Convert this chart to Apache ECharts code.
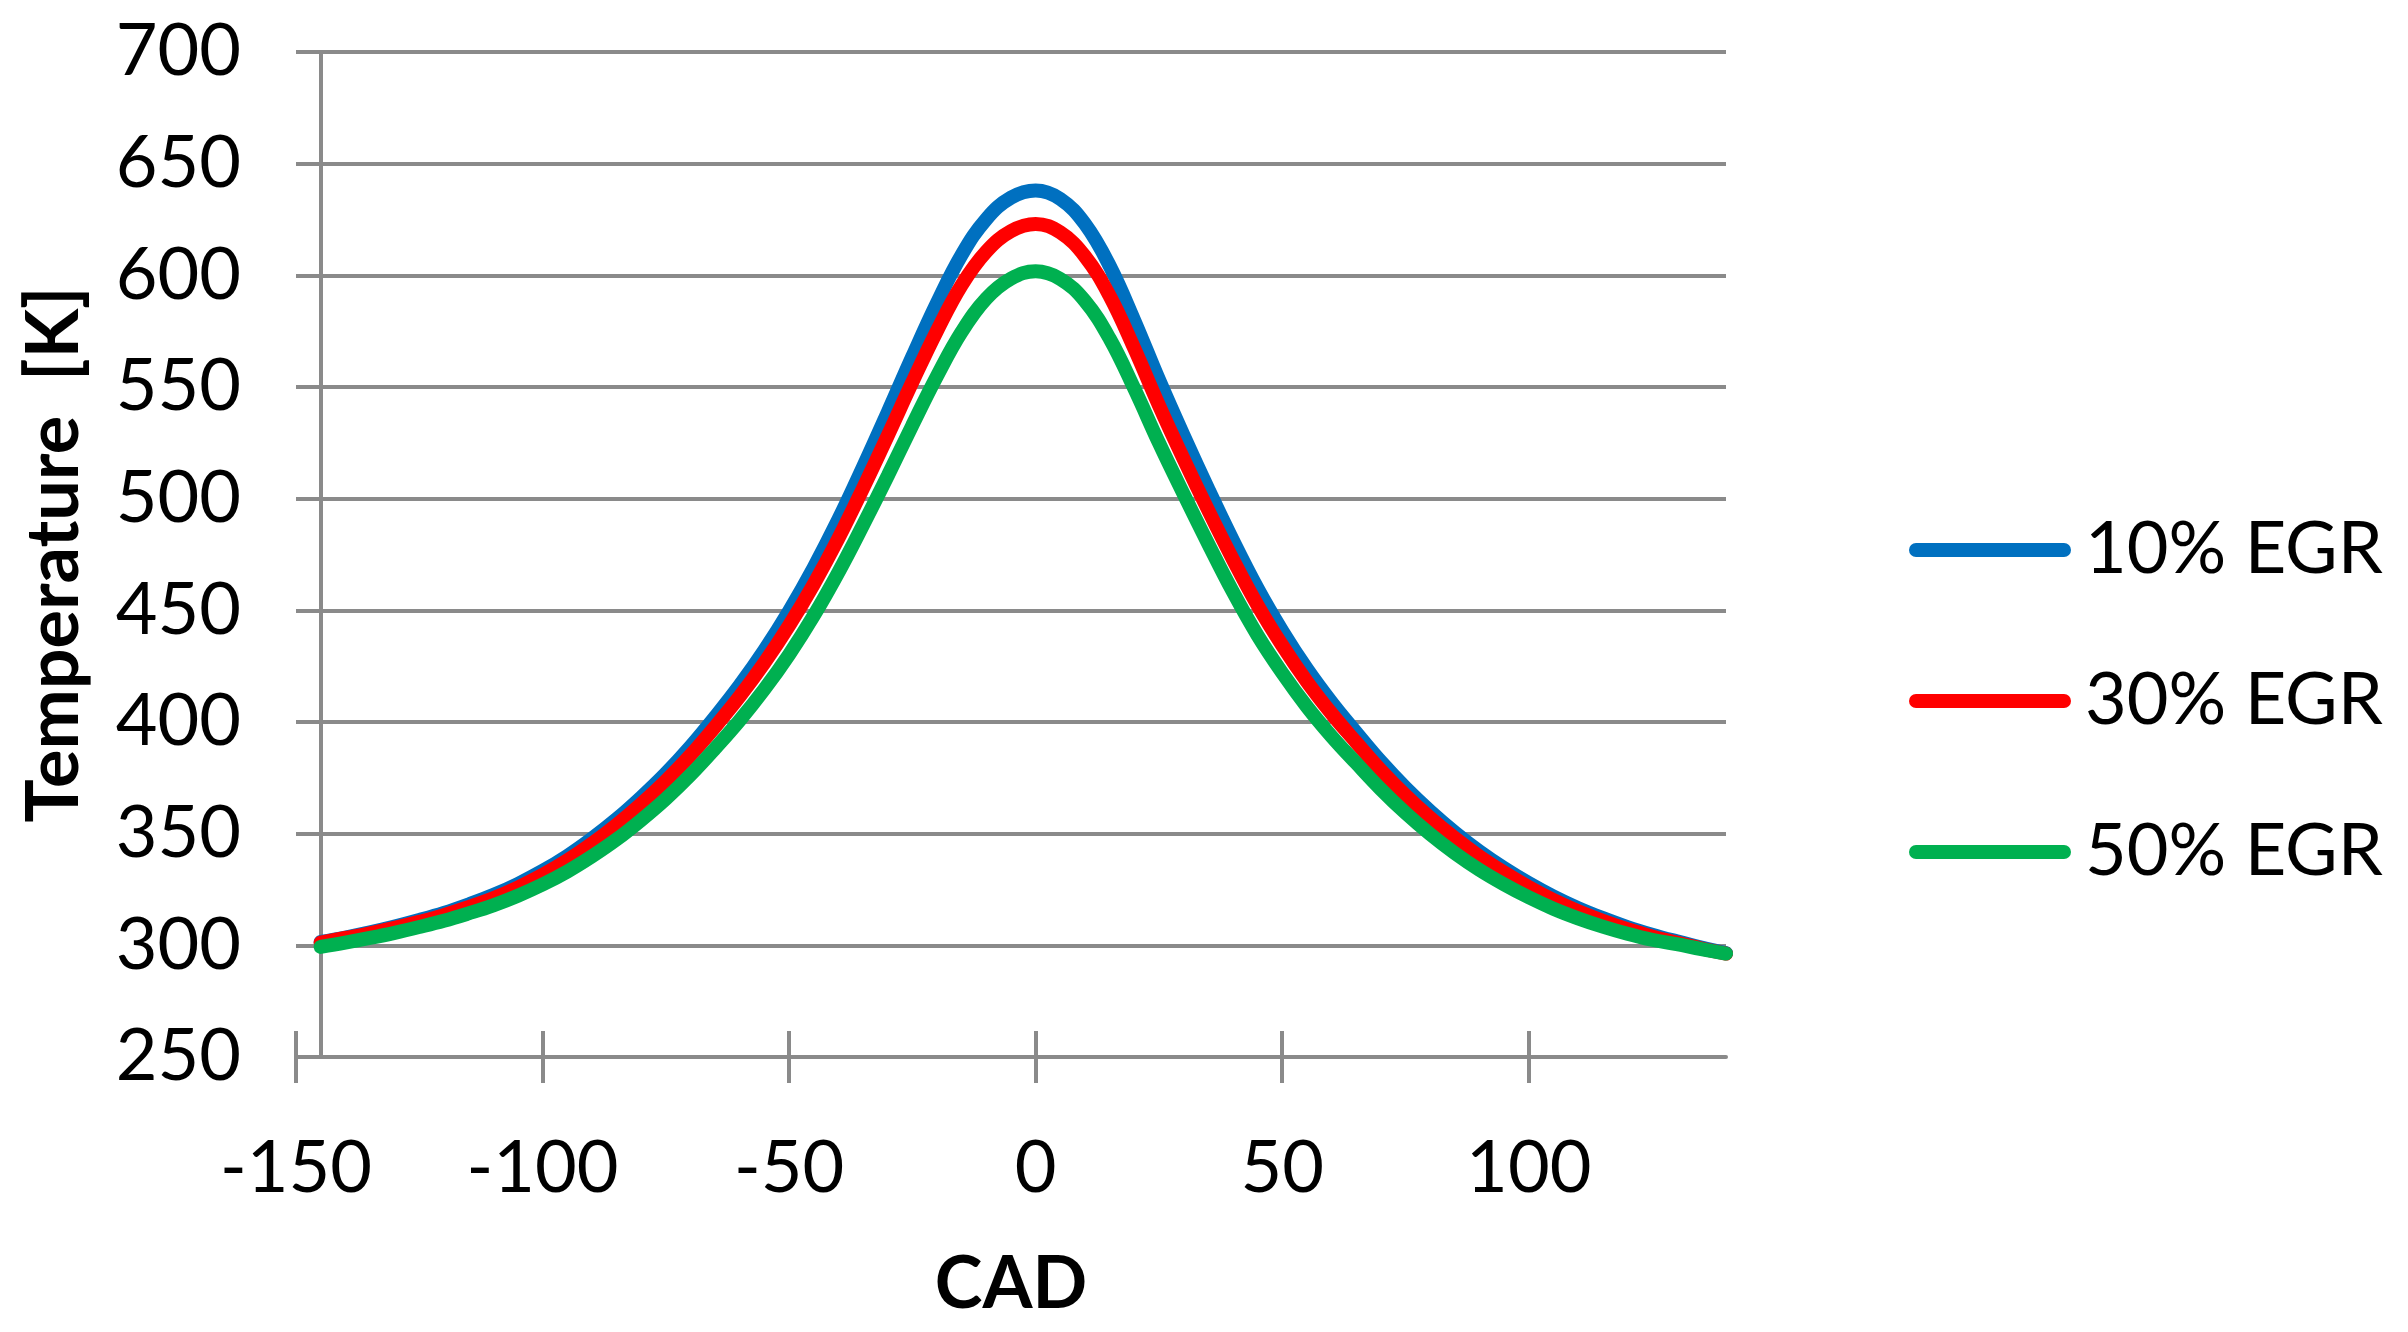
<!DOCTYPE html>
<html>
<head>
<meta charset="utf-8">
<script src="https://cdn.jsdelivr.net/npm/echarts@6/dist/echarts.min.js"></script>
<style>
  html, body { margin: 0; padding: 0; background: #fff; }
  #chart { width: 2408px; height: 1332px; }
</style>
</head>
<body>
<div id="chart"></div>
<script>
// crank angle (deg) and in-cylinder temperature (K) for each EGR rate
const cad = [-145, -140, -135, -130, -125, -120, -115, -110, -105, -100, -95, -90, -85, -80, -75, -70, -65, -60, -55, -50,
  -45, -40, -35, -30, -25, -20, -15, -10, -5, 0, 5, 10, 15, 20, 25, 30, 35, 40, 45, 50,
  55, 60, 65, 70, 75, 80, 85, 90, 95, 100, 105, 110, 115, 120, 125, 130, 135, 140];
const egr10 = [301.5, 303.5, 305.8, 308.4, 311.3, 314.5, 318.3, 322.5, 327.5, 333.3, 340, 347.8, 356.5, 366.3, 377, 389, 402.3, 416.5, 432.2, 449.7,
  469.2, 490.7, 514.2, 538.7, 563.7, 587.7, 609.2, 625.2, 634.8, 638, 634.2, 623, 604.3, 579.8, 553.3, 528.3, 504.3, 481.3, 459.8, 440.8,
  423.8, 408.8, 395.3, 382.3, 370.6, 360.1, 350.6, 342.1, 334.6, 327.9, 321.9, 316.7, 312.2, 308.2, 304.8, 301.8, 299, 296.5];
const egr30 = [301.2, 303.3, 305.4, 307.8, 310.5, 313.5, 317.1, 321.1, 325.9, 331.5, 338, 345.5, 353.9, 363.3, 373.6, 385.1, 397.9, 411.5, 426.5, 443.2,
  461.7, 482.2, 504.7, 528.2, 552.2, 575.2, 595.7, 610.7, 619.8, 623, 619.2, 608.5, 590.8, 567.3, 541.8, 517.8, 494.8, 472.8, 452.3, 434.3,
  418.1, 403.8, 390.9, 378.4, 367.2, 357.1, 348, 339.8, 332.6, 326.1, 320.3, 315.3, 311, 307.2, 304, 301.2, 298.6, 296.3];
const egr50 = [299.3, 301.2, 303.3, 305.6, 308.2, 311, 314.3, 317.9, 322.2, 327.2, 333, 339.8, 347.4, 356.1, 365.6, 376.3, 388.2, 400.8, 414.7, 430.2,
  447.6, 467, 488.2, 510.2, 532.9, 554.9, 574.7, 589.6, 598.5, 601.8, 598.4, 588.5, 571.7, 549.3, 525, 502.1, 479.8, 458.3, 438.8, 422,
  406.9, 393.6, 381.6, 369.9, 359.3, 349.8, 341.3, 333.8, 327.3, 321.5, 316.4, 312.1, 308.4, 305.2, 302.5, 300.5, 298.3, 296.3];

const seriesNames = ["10% EGR", "30% EGR", "50% EGR"];
const seriesColors = ["#0070C0", "#FF0000", "#00B050"];
const xTicks = [-150, -100, -50, 0, 50, 100];
const yAxisCross = -145;

const GRID = "#8a8a8a";
const FONT = "Lato";

const toPairs = (ys) => cad.map((x, i) => [x, ys[i]]);

const chart = echarts.init(document.getElementById("chart"));

// two overlaid x axes give the ticks that cross the axis line
const tickAxis = (inside) => ({
  type: "value",
  min: -150,
  max: 140,
  position: "bottom",
  axisLine: { show: !inside, onZero: false, lineStyle: { color: GRID, width: 4 } },
  axisTick: {
    show: true,
    inside: inside,
    length: 26,
    customValues: xTicks,
    lineStyle: { color: GRID, width: 4 },
  },
  axisLabel: {
    show: !inside,
    customValues: xTicks,
    fontFamily: FONT,
    fontSize: 72,
    color: "#000",
    margin: 76,
  },
  splitLine: { show: false },
});

const xMain = tickAxis(false);
xMain.name = "CAD";
xMain.nameLocation = "middle";
xMain.nameGap = 192;
xMain.nameTextStyle = { fontFamily: FONT, fontSize: 72, fontWeight: "bold", color: "#000" };

const option = {
  animation: false,
  backgroundColor: "#fff",
  textStyle: { fontFamily: FONT },
  grid: { left: 296, right: 682, top: 52, bottom: 275 },
  legend: {
    orient: "vertical",
    left: 1909,
    top: 510,
    padding: 0,
    itemWidth: 162,
    itemHeight: 14,
    itemGap: 71,
    icon: "path://M7,0 L155,0 A7,7 0 0 1 155,14 L7,14 A7,7 0 0 1 7,0 Z",
    textStyle: { fontFamily: FONT, fontSize: 72, color: "#000", lineHeight: 80, padding: [0, 0, 0, 9] },
    data: seriesNames,
  },
  xAxis: [xMain, tickAxis(true)],
  yAxis: {
    type: "value",
    min: 250,
    max: 700,
    interval: 50,
    name: "Temperature  [K]",
    nameLocation: "middle",
    nameGap: 205,
    nameTextStyle: { fontFamily: FONT, fontSize: 72, fontWeight: "bold", color: "#000" },
    axisLine: { show: false },
    axisTick: { show: false },
    axisLabel: { fontFamily: FONT, fontSize: 72, color: "#000", margin: 55 },
    splitLine: { show: true, lineStyle: { color: GRID, width: 4 } },
  },
  series: [egr10, egr30, egr50].map((ys, i) => ({
    name: seriesNames[i],
    type: "line",
    data: toPairs(ys),
    smooth: 0.4,
    showSymbol: false,
    color: seriesColors[i],
    lineStyle: { color: seriesColors[i], width: 14, cap: "round" },
    z: 3 + i,
    markLine: i === 0 ? {
      silent: true,
      symbol: ["none", "none"],
      label: { show: false },
      lineStyle: { color: GRID, width: 4, type: "solid" },
      emphasis: { disabled: true },
      z: 1,
      data: [{ xAxis: yAxisCross }],
    } : undefined,
  })),
};

chart.setOption(option);
</script>
</body>
</html>
